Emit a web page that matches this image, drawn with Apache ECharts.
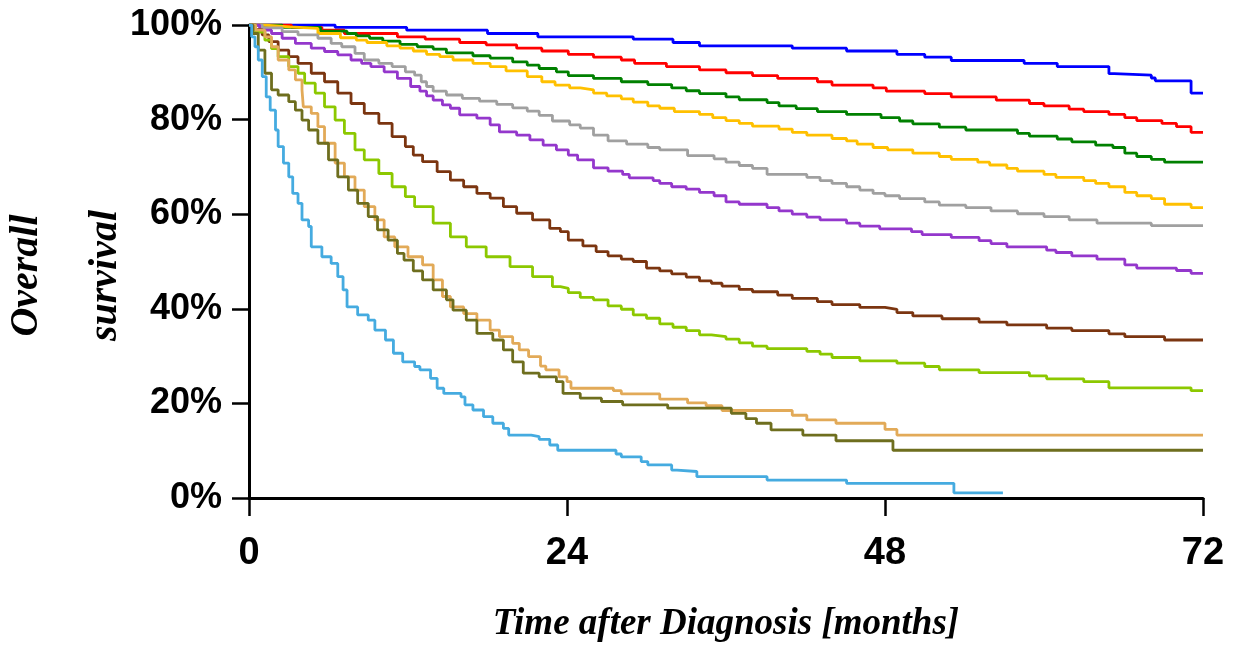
<!DOCTYPE html>
<html>
<head>
<meta charset="utf-8">
<script src="https://cdn.jsdelivr.net/npm/echarts@6/dist/echarts.min.js"></script>
<style>
  html, body { margin: 0; padding: 0; background: #fff; }
  #chart { width: 1237px; height: 646px; }
</style>
</head>
<body>
<div id="chart"></div>
<script>
// ---- Data: Kaplan-Meier curves, [month, survival %] (value after each step) ----
const xTicks = [0, 24, 48, 72];
const yTicks = [0, 20, 40, 60, 80, 100];

const curve1 = [[0,100],[6.5,99.5],[11.9,98.9],[18,98.2],[21.8,97.5],[29,97.0],[32,96.3],[34,95.6],[41,95.1],[45.1,94.5],[48.9,93.8],[51,93.2],[53,92.5],[58.5,91.9],[61,91.2],[64.9,89.7],[65.3,89.4],[68.1,88.8],[68.4,88.2],[71.1,85.6],[72,85.6]];

const curve2 = [[0,100],[3.2,99.5],[5.5,98.9],[7.2,98.2],[11.2,97.5],[13.3,97.0],[15.9,96.3],[17.9,95.8],[20.2,95.1],[22.1,94.5],[24.1,93.8],[26.0,93.2],[28.1,92.6],[29.1,91.9],[31.5,91.2],[34.0,90.5],[36.0,89.9],[38.0,89.3],[39.9,88.7],[42.9,88.0],[44.0,87.3],[47.1,86.7],[48.1,86.0],[51.0,85.5],[53.0,84.8],[56.4,84.1],[58.9,83.4],[60.0,82.9],[61.9,82.2],[63.0,81.7],[64.9,81.1],[66.1,80.4],[67.0,79.8],[68.9,79.2],[70.0,78.5],[71.1,77.3],[72,77.3]];

const curve3 = [[0,100],[2.5,99.5],[5.4,98.7],[7.4,98.2],[8.1,97.7],[9.1,97.2],[10.1,96.6],[11.4,95.9],[12.7,95.4],[13.9,94.9],[14.9,94.1],[16.9,93.5],[18.2,93.0],[19.9,92.2],[21.0,91.5],[21.9,90.8],[23.2,90.1],[24.1,89.3],[26.0,88.7],[28.1,88.0],[30.1,87.4],[31.9,86.7],[33.0,86.1],[34.0,85.5],[36.0,84.8],[37.0,84.2],[39.1,83.6],[40.0,82.9],[41.3,82.3],[42.9,81.7],[45.1,81.1],[47.7,80.4],[49.1,79.7],[50.1,79.1],[52.1,78.4],[54.1,77.8],[58.0,77.1],[58.9,76.5],[61.0,75.9],[62.1,75.3],[63.9,74.6],[65.2,74.1],[66.1,72.9],[67.0,72.2],[68.1,71.6],[69.1,71.0],[72,71.0]];

const curve4 = [[0,100],[1.0,99.6],[3.1,99.3],[5.2,98.2],[6.9,97.3],[8.1,96.8],[8.9,96.3],[10.4,95.6],[11.4,95.1],[12.4,94.5],[13.4,93.8],[14.4,93.3],[15.4,92.6],[16.9,91.9],[18.2,91.2],[19.4,90.3],[21.0,89.1],[22.1,88.0],[23.1,87.3],[24.2,86.7],[25.0,86.3],[26.0,85.6],[27.0,85.0],[28.1,84.4],[29.0,83.7],[30.1,82.9],[31.0,82.4],[32.1,81.7],[34.0,81.1],[35.0,80.4],[36.0,79.8],[37.0,79.2],[38.0,78.6],[40.0,78.0],[41.0,77.3],[42.1,76.7],[44.0,76.0],[45.1,75.5],[45.9,74.8],[47.1,74.1],[48.2,73.6],[50.1,72.9],[52.1,72.2],[53.0,71.6],[55.0,71.0],[55.9,70.4],[57.2,69.7],[58.0,69.1],[60.0,68.4],[60.9,67.8],[63.0,67.1],[63.9,66.5],[64.9,65.8],[66.1,64.6],[67.0,63.9],[68.1,63.3],[69.1,62.1],[71.1,61.4],[72,61.4]];

const curve5 = [[0,100],[1.0,99.4],[2.5,98.6],[3.7,97.9],[5.2,97.2],[6.2,96.1],[7.0,95.4],[8.0,94.0],[8.7,92.6],[9.8,91.9],[10.8,91.2],[11.8,90.1],[12.5,89.4],[13.0,88.0],[13.4,87.0],[13.9,86.0],[14.9,85.2],[16.1,84.5],[17.4,83.9],[18.7,83.2],[19.9,82.5],[21.0,81.8],[21.9,80.9],[22.9,79.7],[24.2,78.9],[25.0,78.2],[26.0,76.7],[27.1,75.5],[28.5,74.8],[30.1,74.1],[31.0,73.6],[33.1,72.4],[35.1,71.7],[36.0,71.0],[37.0,70.3],[38.0,69.7],[39.1,68.4],[42.1,67.8],[43.1,67.1],[44.0,66.5],[45.1,65.8],[46.1,65.1],[47.1,64.4],[48.0,63.9],[49.1,63.3],[51.0,62.6],[52.1,61.9],[54.1,61.4],[56.0,60.7],[58.0,60.1],[60.0,59.5],[61.9,58.8],[64.0,58.1],[68.1,57.6],[72,57.6]];

const curve6 = [[0,100],[0.8,98.9],[1.7,98.2],[2.5,97.2],[3.5,96.1],[4.7,95.1],[5.7,94.4],[6.7,93.7],[7.7,92.6],[8.5,91.9],[9.2,91.2],[10.2,90.1],[11.2,88.7],[12.2,87.0],[12.9,86.0],[13.4,85.0],[13.9,84.1],[14.6,83.1],[15.2,82.4],[15.9,81.0],[17.2,80.3],[18.2,78.9],[18.9,77.4],[20.2,76.7],[21.2,75.7],[22.2,74.6],[23.2,73.6],[24.1,72.5],[24.8,71.5],[26.0,69.8],[27.1,69.1],[28.2,68.4],[28.7,67.7],[30.5,67.1],[31.0,66.5],[31.9,65.8],[33.0,65.3],[34.0,64.6],[35.1,63.9],[36.0,62.6],[37.0,62.1],[39.1,61.4],[40.0,60.7],[41.0,60.0],[42.1,59.4],[43.1,58.8],[45.1,58.1],[46.1,57.5],[47.6,56.9],[50.0,56.3],[50.8,55.7],[53.0,55.1],[55.1,54.4],[56.0,53.8],[57.2,53.1],[60.2,52.4],[60.9,51.9],[62.1,51.2],[64.0,50.5],[66.1,49.3],[67.0,48.6],[70.0,48.1],[71.1,47.5],[72,47.5]];

const curve7 = [[0,100],[0.5,99.0],[1.0,97.9],[1.5,96.5],[2.2,94.7],[3.0,93.3],[3.7,91.9],[4.7,89.8],[5.7,88.0],[6.7,85.6],[7.7,83.4],[8.7,81.3],[9.8,79.2],[10.8,76.4],[11.8,74.3],[12.4,72.5],[13.1,71.1],[14.2,69.0],[15.2,67.2],[16.2,65.8],[17.2,64.4],[18.2,63.4],[19.2,61.6],[20.2,60.2],[21.4,58.8],[22.7,57.0],[23.5,56.3],[24.1,54.5],[25.2,53.3],[26.2,52.1],[27.1,51.2],[28.1,50.5],[29.0,50.0],[30.0,48.6],[31.0,48.0],[31.9,47.4],[33.0,46.7],[34.0,45.9],[34.9,45.4],[35.7,44.8],[37.0,44.1],[38.0,43.6],[39.9,42.9],[41.0,42.2],[42.9,41.5],[44.0,40.9],[46.1,40.3],[48.0,39.9],[48.9,39.2],[50.1,38.5],[52.3,37.9],[55.1,37.2],[57.2,36.6],[60.2,35.9],[62.1,35.4],[64.9,34.7],[66.1,34.1],[69.1,33.4],[72,33.4]];

const curve8 = [[0,100],[0.5,98.5],[1.2,96.8],[1.7,95.0],[2.2,93.3],[3.0,91.2],[3.7,89.8],[4.2,87.7],[5.0,85.6],[5.7,82.7],[6.5,79.9],[7.2,77.1],[8.0,73.6],[8.7,71.5],[9.8,68.6],[10.8,65.8],[11.8,63.7],[12.5,61.6],[13.9,58.1],[15.2,55.2],[16.4,53.1],[17.9,51.0],[19.7,48.9],[21.4,46.8],[22.9,44.7],[23.5,44.3],[24.1,43.4],[25.0,42.4],[26.0,41.9],[27.1,40.6],[28.1,39.9],[29.0,38.7],[30.0,38.0],[31.0,36.8],[32.0,36.1],[33.0,35.4],[34.0,34.5],[34.9,34.1],[36.0,33.6],[37.0,32.8],[38.0,32.1],[39.1,31.6],[42.1,31.0],[43.1,30.4],[44.0,29.7],[46.1,29.0],[48.9,28.5],[51.0,27.8],[52.1,27.1],[55.1,26.5],[58.9,25.8],[60.2,25.2],[63.0,24.6],[64.9,23.3],[71.1,22.7],[72,22.7]];

const curve9 = [[0,100],[0.5,98.9],[1.2,97.5],[1.7,95.4],[2.2,92.6],[3.0,90.5],[3.5,88.4],[4.0,86.3],[4.1,82.7],[4.7,81.3],[5.2,78.5],[5.7,75.0],[6.5,70.8],[7.2,67.9],[8.0,65.1],[8.7,61.6],[9.5,58.8],[10.2,55.2],[11.0,53.1],[12.0,51.0],[13.1,49.3],[13.9,46.1],[14.6,42.6],[15.2,40.4],[16.2,39.0],[17.2,37.6],[18.2,35.5],[18.9,34.1],[19.9,32.7],[20.4,31.3],[21.1,29.9],[22.0,27.9],[22.4,27.1],[23.4,25.6],[24.0,24.6],[24.3,23.2],[27.5,22.7],[28.1,22.0],[31.0,20.9],[33.1,20.1],[34.5,19.5],[35.7,18.5],[41.0,17.5],[42.1,16.5],[44.3,15.8],[48.0,14.5],[48.9,13.3],[72,13.3]];

const curve10 = [[0,100],[0.3,98.2],[0.7,94.7],[1.2,89.8],[1.7,86.3],[2.2,85.2],[3.0,83.8],[3.5,82.0],[4.0,79.9],[4.5,77.8],[5.2,75.0],[6.0,71.5],[6.7,67.9],[7.5,65.1],[8.2,62.3],[9.0,59.5],[9.7,56.7],[10.5,54.5],[11.2,51.7],[11.7,50.3],[12.4,48.0],[13.1,46.1],[13.9,44.0],[14.9,41.9],[15.4,39.7],[16.4,37.6],[17.2,34.8],[18.4,33.4],[19.2,31.3],[19.9,28.8],[20.7,26.4],[21.9,25.6],[23.2,24.6],[23.7,22.1],[25.0,21.1],[26.6,20.4],[28.2,19.7],[31.6,19.0],[36.4,17.9],[37.5,16.8],[38.3,15.8],[39.4,14.4],[41.8,13.3],[44.3,12.1],[48.6,10.1],[72,10.1]];

const curve11 = [[0,100],[0.2,97.5],[0.45,95.4],[0.7,92.6],[1.0,89.1],[1.3,84.8],[1.6,82.0],[2.0,77.8],[2.2,74.3],[2.6,70.8],[3.0,67.9],[3.3,64.4],[3.7,62.3],[4.0,58.8],[4.5,57.4],[4.7,53.1],[5.5,51.0],[6.2,49.6],[6.7,46.8],[7.1,44.0],[7.4,40.4],[8.2,38.7],[9.0,37.6],[9.5,35.5],[10.3,33.4],[10.9,30.6],[11.6,28.8],[12.5,27.8],[12.9,27.1],[13.7,25.3],[14.2,23.2],[14.7,22.1],[16.0,21.4],[16.3,19.7],[16.9,18.6],[17.7,17.2],[18.4,15.8],[19.2,14.7],[19.6,13.3],[21.3,13.0],[21.9,12.4],[22.7,11.2],[23.3,10.1],[27.7,9.3],[28.1,8.7],[29.6,7.7],[30.1,7.0],[31.9,5.9],[32.3,5.6],[33.8,4.5],[39.1,3.8],[45.1,3.1],[53.2,1.1],[56.9,1.1]];

const curves = [curve1, curve2, curve3, curve4, curve5, curve6, curve7, curve8, curve9, curve10, curve11];
const curveNames = ['Group 1','Group 2','Group 3','Group 4','Group 5','Group 6','Group 7','Group 8','Group 9','Group 10','Group 11'];

// ---- Styles ----
const curveColors = ['#0000FF','#FF0000','#008000','#FFC000','#A0A0A0','#9437CC','#7B3510','#8CC800','#E2AA58','#6E6E1E','#45ABE0'];

const chart = echarts.init(document.getElementById('chart'), null, { renderer: 'canvas' });

const series = curves.map((c, i) => ({
  name: curveNames[i],
  type: 'line',
  step: 'end',
  data: c,
  showSymbol: false,
  symbol: 'none',
  lineStyle: { color: curveColors[i], width: 2.8 },
  itemStyle: { color: curveColors[i] },
  z: 2
}));

chart.setOption({
  animation: false,
  backgroundColor: '#ffffff',
  grid: { left: 249, right: 34, top: 25, bottom: 148, containLabel: false, outerBoundsMode: 'none' },
  xAxis: {
    type: 'value',
    min: xTicks[0],
    max: xTicks[xTicks.length - 1],
    interval: 24,
    name: 'Time after Diagnosis [months]',
    nameLocation: 'middle',
    nameGap: 108,
    nameMoveOverlap: false,
    nameTextStyle: {
      fontFamily: '"Liberation Serif", "Times New Roman", serif',
      fontStyle: 'italic', fontWeight: 'bold', fontSize: 37, color: '#000'
    },
    axisLine: { show: true, lineStyle: { color: '#000', width: 3 } },
    axisTick: { show: true, inside: false, length: 18, lineStyle: { color: '#000', width: 2.5 } },
    axisLabel: {
      margin: 37,
      fontFamily: '"Liberation Sans", Arial, sans-serif',
      fontWeight: 'bold', fontSize: 38, color: '#000'
    },
    splitLine: { show: false }
  },
  yAxis: {
    type: 'value',
    min: yTicks[0],
    max: yTicks[yTicks.length - 1],
    interval: 20,
    name: 'Overall\nsurvival',
    nameLocation: 'middle',
    nameRotate: 90,
    nameGap: 104,
    nameMoveOverlap: false,
    nameTextStyle: {
      fontFamily: '"Liberation Serif", "Times New Roman", serif',
      fontStyle: 'italic', fontWeight: 'bold', fontSize: 40, color: '#000',
      lineHeight: 79,
      padding: [0, 28, 0, 0]
    },
    axisLine: { show: true, lineStyle: { color: '#000', width: 3 } },
    axisTick: { show: true, inside: false, length: 17, lineStyle: { color: '#000', width: 2.5 } },
    axisLabel: {
      margin: 27,
      formatter: '{value}%',
      fontFamily: '"Liberation Sans", Arial, sans-serif',
      fontWeight: 'bold', fontSize: 36, color: '#000'
    },
    splitLine: { show: false }
  },
  series: series
});
</script>
</body>
</html>
